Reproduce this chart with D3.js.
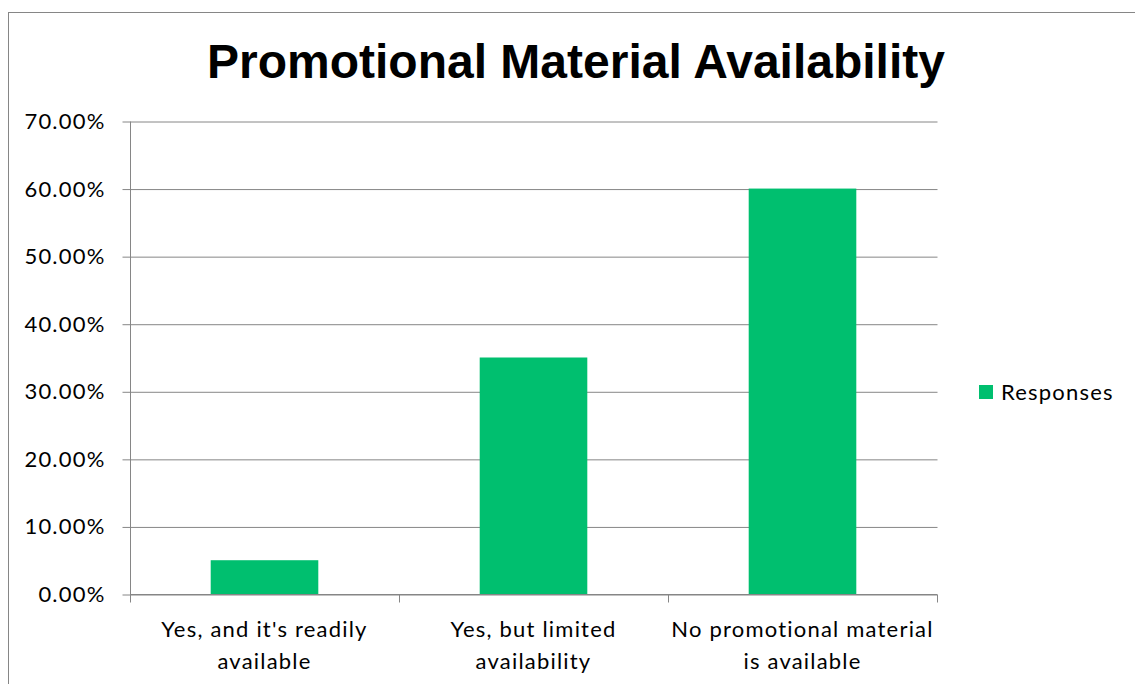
<!DOCTYPE html>
<html>
<head>
<meta charset="utf-8">
<script src="https://cdn.jsdelivr.net/npm/d3@7"></script>
<style>
  html, body { margin: 0; padding: 0; background: #fff; }
  svg { display: block; }
</style>
</head>
<body>
<svg id="chart" width="1135" height="684"></svg>
<script>
// Survey responses: is promotional material available?
const categories = [
  ["Yes, and it's readily", "available"],
  ["Yes, but limited", "availability"],
  ["No promotional material", "is available"]
];
const responses = [0.05, 0.35, 0.60];
const yTicks = [0, 0.1, 0.2, 0.3, 0.4, 0.5, 0.6, 0.7];
const seriesName = "Responses";
const titleText = "Promotional Material Availability";

const svg = d3.select("#chart");
const W = 1135, H = 684;
const plot = { left: 130, right: 937, top: 121, bottom: 594 };
const barColor = "#00BF6F";
const gridColor = "#868686";
const labelFont = "Lato, 'Open Sans', sans-serif";
const labelSize = 22;
const labelSpacing = "1.2px";

// chart frame
svg.append("rect")
  .attr("x", 8.5).attr("y", 12.5)
  .attr("width", W).attr("height", H)
  .attr("fill", "#fff").attr("stroke", "#868686").attr("stroke-width", 1);

const idx = categories.map((d, i) => i);
const x = d3.scaleBand().domain(idx).range([plot.left, plot.right]).paddingInner(0.6).paddingOuter(0.3);
const xCat = d3.scaleBand().domain(idx).range([plot.left, plot.right]);
const y = d3.scaleLinear().domain([0, 0.7]).range([plot.bottom, plot.top]);

// horizontal gridlines + y axis
const yAxis = d3.axisLeft(y).tickValues(yTicks).tickFormat(d3.format(".2%")).tickSize(8).tickPadding(17);
const gy = svg.append("g").attr("transform", `translate(${plot.left + 0.5},0.5)`).call(yAxis);
gy.select(".domain").attr("stroke", gridColor).attr("d", `M0,${plot.top}V${plot.bottom}`);
gy.selectAll(".tick line").attr("stroke", gridColor).attr("x1", 0).attr("x2", -8);
gy.selectAll(".tick").append("line")
  .attr("x1", 0).attr("x2", plot.right - plot.left).attr("stroke", gridColor);
gy.selectAll(".tick text")
  .attr("font-family", labelFont).attr("font-size", labelSize)
  .attr("letter-spacing", labelSpacing).attr("fill", "#000");

// bars
svg.append("g").selectAll("rect").data(responses).join("rect")
  .attr("x", (d, i) => x(i))
  .attr("width", x.bandwidth())
  .attr("y", d => y(d))
  .attr("height", d => y(0) - y(d))
  .attr("fill", barColor);

// x axis with ticks at category boundaries
const gx = svg.append("g").attr("transform", `translate(0,${plot.bottom + 0.5})`);
gx.append("line").attr("x1", plot.left).attr("x2", plot.right).attr("stroke", gridColor);
const bounds = idx.map(i => xCat(i)).concat([plot.right]);
gx.selectAll("line.tk").data(bounds).join("line").attr("class", "tk")
  .attr("x1", d => Math.round(d) + 0.5).attr("x2", d => Math.round(d) + 0.5)
  .attr("y1", 0).attr("y2", 8).attr("stroke", gridColor);

const catText = gx.selectAll("text.cat").data(categories).join("text").attr("class", "cat")
  .attr("x", (d, i) => xCat(i) + xCat.bandwidth() / 2)
  .attr("y", 42)
  .attr("text-anchor", "middle")
  .attr("font-family", labelFont).attr("font-size", labelSize)
  .attr("letter-spacing", labelSpacing).attr("fill", "#000");
catText.selectAll("tspan").data(d => d).join("tspan")
  .attr("x", function() { return d3.select(this.parentNode).attr("x"); })
  .attr("dy", (d, i) => i === 0 ? 0 : 32)
  .text(d => d);

// title
svg.append("text")
  .attr("x", 576).attr("y", 78)
  .attr("text-anchor", "middle")
  .attr("font-family", "'Liberation Sans', Arial, sans-serif")
  .attr("font-weight", "bold").attr("font-size", 48)
  .attr("fill", "#000")
  .text(titleText);

// legend
const lg = svg.append("g").attr("transform", "translate(979,385)");
lg.append("rect").attr("width", 14).attr("height", 14).attr("fill", barColor);
lg.append("text").attr("x", 22).attr("y", 15)
  .attr("font-family", labelFont).attr("font-size", labelSize)
  .attr("letter-spacing", labelSpacing).attr("fill", "#000")
  .text(seriesName);
</script>
</body>
</html>
